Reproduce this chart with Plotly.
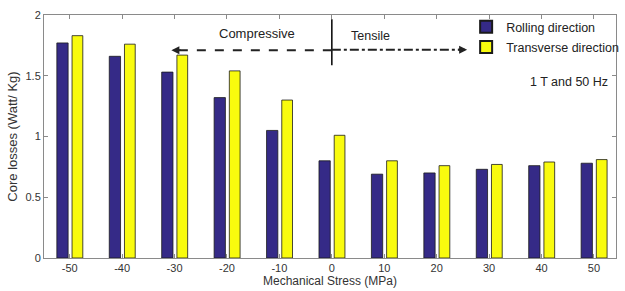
import plotly.graph_objects as go

stress = [-50, -40, -30, -20, -10, 0, 10, 20, 30, 40, 50]
rolling = [1.77, 1.66, 1.53, 1.32, 1.05, 0.80, 0.69, 0.70, 0.73, 0.76, 0.78]
transverse = [1.83, 1.76, 1.67, 1.54, 1.30, 1.01, 0.80, 0.76, 0.77, 0.79, 0.81]
series_names = ["Rolling direction", "Transverse direction"]
x_ticks = [-50, -40, -30, -20, -10, 0, 10, 20, 30, 40, 50]
y_ticks = [0, 0.5, 1, 1.5, 2]

FONT = "Liberation Sans, Arial, sans-serif"
BLUE = "#352a87"
YELLOW = "#f9fb0e"

fig = go.Figure()
fig.add_trace(go.Bar(
    x=stress, y=rolling, name=series_names[0], legendgroup="r",
    width=2.15, offset=-2.45,
    marker=dict(color=BLUE, line=dict(color="#1a1a1a", width=0.8)),
))
fig.add_trace(go.Bar(
    x=stress, y=transverse, name=series_names[1], legendgroup="t",
    width=2.05, offset=0.45,
    marker=dict(color=YELLOW, line=dict(color="#1a1a1a", width=0.8)),
))

axis_common = dict(
    showline=True, linecolor="#8a8a8a", linewidth=1, mirror="ticks",
    ticks="inside", ticklen=4, tickcolor="#8a8a8a",
    showgrid=False, zeroline=False, automargin=False,
    tickfont=dict(family=FONT, size=11, color="#333"),
)

fig.update_xaxes(
    range=[-54.9, 54.2], tickvals=x_ticks, ticktext=[str(v) for v in x_ticks],
    title=dict(text="Mechanical Stress (MPa)", font=dict(family=FONT, size=12, color="#333"), standoff=3),
    **axis_common,
)
fig.update_yaxes(
    range=[0, 2], tickvals=y_ticks, ticktext=["0", "0.5", "1", "1.5", "2"],
    title=dict(text="Core losses (Watt/ Kg)", font=dict(family=FONT, size=13, color="#333"), standoff=4),
    **axis_common,
)

# Compressive / tensile markers
fig.add_shape(type="line", xref="x", yref="y", x0=0, x1=0, y0=1.587, y1=1.966,
              line=dict(color="black", width=1.5))
fig.add_shape(type="line", xref="x", yref="y", x0=0, x1=-29.5, y0=1.71, y1=1.71,
              line=dict(color="#222", width=2, dash="dash"))
fig.add_shape(type="line", xref="x", yref="y", x0=0, x1=24.8, y0=1.715, y1=1.715,
              line=dict(color="#222", width=2, dash="dashdot"))
fig.add_annotation(x=-30.6, y=1.71, ax=-28.5, ay=1.71, axref="x", ayref="y",
                   xref="x", yref="y", text="", showarrow=True,
                   arrowhead=2, arrowsize=1, arrowwidth=1.6, arrowcolor="#222")
fig.add_annotation(x=25.8, y=1.715, ax=23.8, ay=1.715, axref="x", ayref="y",
                   xref="x", yref="y", text="", showarrow=True,
                   arrowhead=2, arrowsize=1, arrowwidth=1.6, arrowcolor="#222")
fig.add_annotation(x=-14.3, y=1.85, xref="x", yref="y", text="Compressive",
                   showarrow=False, font=dict(family=FONT, size=13, color="#222"))
fig.add_annotation(x=7.3, y=1.83, xref="x", yref="y", text="Tensile",
                   showarrow=False, font=dict(family=FONT, size=12.5, color="#222"))
fig.add_annotation(x=45.3, y=1.45, xref="x", yref="y", text="1 T and 50 Hz",
                   showarrow=False, font=dict(family=FONT, size=12.5, color="#222"))

fig.update_layout(
    width=625, height=291,
    margin=dict(l=44, r=1, t=15, b=33),
    plot_bgcolor="white", paper_bgcolor="white",
    barmode="overlay",
    legend=dict(x=0.738, y=1.012, xanchor="left", yanchor="top",
                bgcolor="rgba(255,255,255,0)", borderwidth=0,
                font=dict(family=FONT, size=12.5, color="#222"),
                tracegroupgap=1, itemsizing="constant"),
    showlegend=True,
)

fig.write_html("out.html", config={"displayModeBar": False},
               post_script="document.body.style.margin='0';document.body.style.overflow='hidden';")
